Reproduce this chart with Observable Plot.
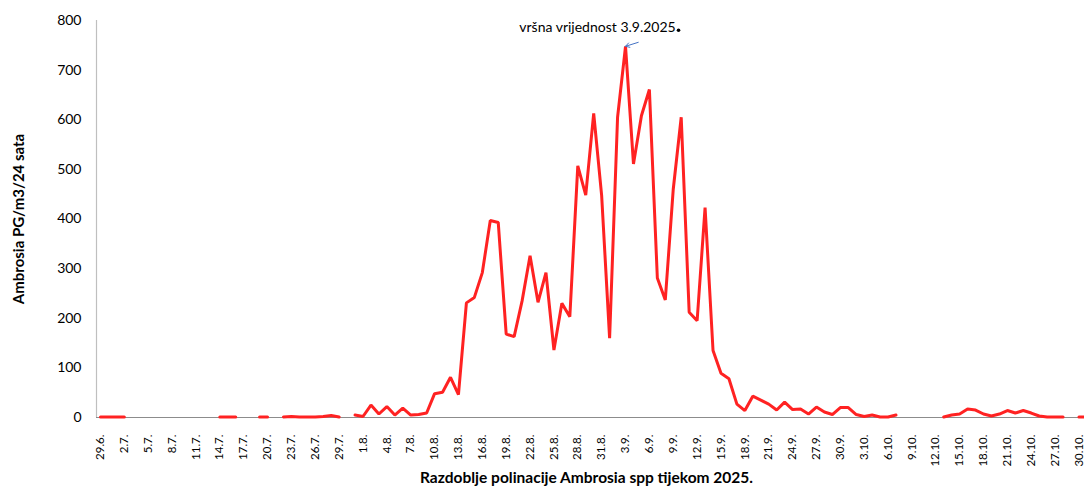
<!DOCTYPE html>
<html>
<head>
<meta charset="utf-8">
<script src="https://cdn.jsdelivr.net/npm/d3@7"></script>
<script src="https://cdn.jsdelivr.net/npm/@observablehq/plot@0.6"></script>
<style>
  body { margin: 0; background: #fff; overflow: hidden; }
  #chart svg { display: block; }
</style>
</head>
<body>
<div id="chart"></div>
<script>
// Day index 0 = 29.6.2025 ... 124 = 31.10.2025 ; null = no data
const dayValues = [
  1, 1, 1, 1, null, null, null, null, null, null, null, null, null, null, null,
  1, 1, 1, null, null, 1, 1, null,
  1, 2, 1, 1, 1, 2, 4, 1, null,
  5, 2, 25, 7, 22, 5, 19, 5, 6, 9, 48, 51, 81, 46, 231, 242, 292, 397, 393,
  168, 163, 235, 326, 232, 292, 136, 230, 203, 507, 448, 613, 447, 160, 605,
  748, 511, 608, 661, 281, 237, 460, 605, 212, 195, 423, 135, 89, 78, 27, 14,
  43, 35, 27, 15, 31, 16, 17, 7, 21, 11, 6, 20, 20, 6, 2, 5, 1, 1, 5,
  null, null, null, null, null,
  1, 5, 7, 17, 15, 7, 3, 7, 14, 9, 14, 9, 3, 1, 1, 1, null, 1, 1
];
const tickDays = [0, 3, 6, 9, 12, 15, 18, 21, 24, 27, 30, 33, 36, 39, 42, 45, 48, 51, 54, 57, 60, 63, 66, 69, 72, 75, 78, 81, 84, 87, 90, 93, 96, 99, 102, 105, 108, 111, 114, 117, 120, 123];
const tickLabels = ["29.6.", "2.7.", "5.7.", "8.7.", "11.7.", "14.7.", "17.7.", "20.7.", "23.7.", "26.7.", "29.7.", "1.8.", "4.8.", "7.8.", "10.8.", "13.8.", "16.8.", "19.8.", "22.8.", "25.8.", "28.8.", "31.8.", "3.9.", "6.9.", "9.9.", "12.9.", "15.9.", "18.9.", "21.9.", "24.9.", "27.9.", "30.9.", "3.10.", "6.10.", "9.10.", "12.10.", "15.10.", "18.10.", "21.10.", "24.10.", "27.10.", "30.10."];
const yTicks = [0, 100, 200, 300, 400, 500, 600, 700, 800];
const peakDay = 66;
const peakLabel = "vršna vrijednost 3.9.2025";
const xTitle = "Razdoblje polinacije Ambrosia spp tijekom 2025.";
const yTitle = "Ambrosia PG/m3/24 sata";

const data = dayValues.map((v, i) => ({ i, v }));
const peak = data[peakDay];
const labelOf = new Map(tickDays.map((d, k) => [d, tickLabels[k]]));

const chart = Plot.plot({
  width: 1084,
  height: 487,
  marginLeft: 96,
  marginRight: 0,
  marginTop: 20,
  marginBottom: 70,
  style: { fontFamily: "Lato, 'Open Sans', sans-serif", fontSize: "12px", color: "#000", background: "#fff" },
  x: { domain: [-0.5, 124.5], range: [96, 1090.4] },
  y: { domain: [0, 800] },
  marks: [
    Plot.ruleX([-0.5], { stroke: "#BFBFBF", strokeWidth: 1.2 }),
    Plot.ruleY([0], { stroke: "#8C8C8C", strokeWidth: 1.2 }),
    Plot.axisY(yTicks, { tickSize: 0, tickPadding: 15, fontSize: 14, label: null }),
    Plot.axisX(tickDays, {
      tickSize: 0, tickPadding: 17, tickRotate: -90, fontSize: 11.5, label: null,
      tickFormat: d => labelOf.get(d)
    }),
    Plot.line(data, { x: "i", y: "v", stroke: "#FF2222", strokeWidth: 3, strokeLinejoin: "miter" }),
    Plot.arrow([peak], {
      x1: d => d.i + 1.6, y1: d => d.v + 8, x2: "i", y2: "v",
      stroke: "#4472C4", strokeWidth: 1, headLength: 10, inset: 0
    }),
    Plot.text([peak], { x: "i", y: "v", text: () => peakLabel, dx: -28, dy: -19, fontSize: 14 }),
    Plot.dot([peak], { x: "i", y: "v", dx: 53, dy: -16, r: 1.8, fill: "#000" }),
    Plot.text([xTitle], { frameAnchor: "bottom", lineAnchor: "middle", dx: -4, dy: 61, fontWeight: "bold", fontSize: 15.5 }),
    Plot.text([yTitle], { frameAnchor: "left", textAnchor: "middle", lineAnchor: "middle", dx: -77, rotate: -90, fontWeight: "bold", fontSize: 15 })
  ]
});
document.getElementById("chart").appendChild(chart);
</script>
</body>
</html>
